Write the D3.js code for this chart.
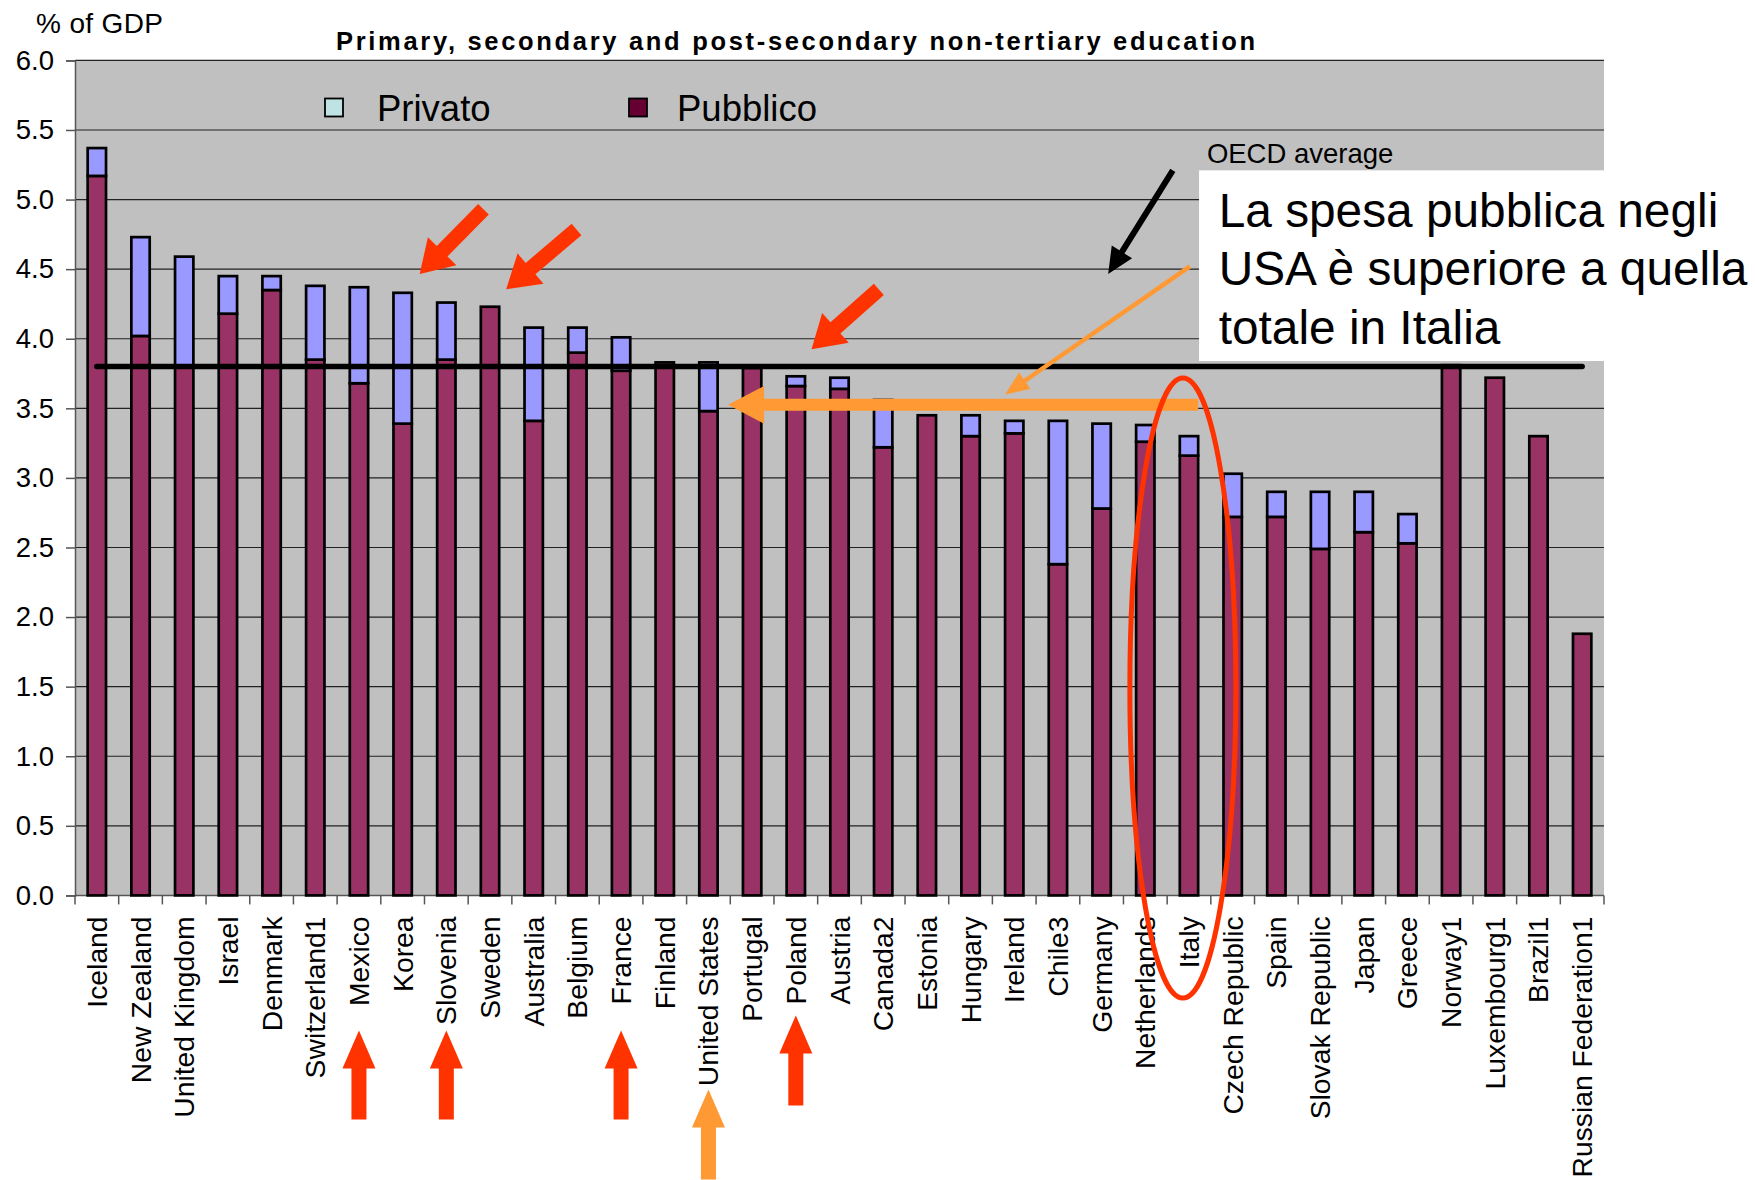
<!DOCTYPE html>
<html>
<head>
<meta charset="utf-8">
<script src="https://cdn.jsdelivr.net/npm/d3@7"></script>
<style>
  html, body { margin: 0; padding: 0; background: #ffffff; }
  svg { display: block; font-family: "Liberation Sans", Arial, sans-serif; }
</style>
</head>
<body>
<svg id="chart" width="1755" height="1180"></svg>
<script>
// ---------------- DATA ----------------
const countries = ["Iceland","New Zealand","United Kingdom","Israel","Denmark","Switzerland1","Mexico","Korea","Slovenia","Sweden","Australia","Belgium","France","Finland","United States","Portugal","Poland","Austria","Canada2","Estonia","Hungary","Ireland","Chile3","Germany","Netherlands","Italy","Czech Republic","Spain","Slovak Republic","Japan","Greece","Norway1","Luxembourg1","Brazil1","Russian Federation1"];
const pubblico = [5.17,4.02,3.80,4.18,4.35,3.85,3.68,3.39,3.85,4.23,3.41,3.90,3.77,3.83,3.48,3.79,3.66,3.64,3.22,3.45,3.30,3.32,2.38,2.78,3.26,3.16,2.72,2.72,2.49,2.61,2.53,3.81,3.72,3.30,1.88];
const privato  = [0.20,0.71,0.79,0.27,0.10,0.53,0.69,0.94,0.41,0.00,0.67,0.18,0.24,0.00,0.35,0.00,0.07,0.08,0.34,0.00,0.15,0.09,1.03,0.61,0.12,0.14,0.31,0.18,0.41,0.29,0.21,0.00,0.00,0.00,0.00];
const yTicks = [0,0.5,1,1.5,2,2.5,3,3.5,4,4.5,5,5.5,6];
const oecdAverage = 3.80;
const seriesNames = ["Privato","Pubblico"];
const titleText = "Primary, secondary and post-secondary non-tertiary education";
const yAxisTitle = "% of GDP";
const oecdLabel = "OECD average";
const noteLines = ["La spesa pubblica negli","USA è superiore a quella","totale in Italia"];
const redUpArrowCountries = ["Mexico","Slovenia","France"];
const redUpArrowCountries2 = ["Poland"];
const orangeUpArrowCountries = ["United States"];

// ---------------- LAYOUT ----------------
const svg = d3.select("#chart");
const M = {left: 75, right: 1604, top: 60.4, bottom: 895.4};
const colPub = "#993366", colPriv = "#9999ff", colPlot = "#c0c0c0";
const red = "#ff3300", orange = "#ff9933";

const x = d3.scaleBand().domain(countries).range([M.left, M.right]).padding(0);
const y = d3.scaleLinear().domain([0, 6]).range([M.bottom, M.top]);
const step = x.step();
const xAt = p => M.left + p * step;   // position in category units
const barW = step * 0.42;

// plot background
svg.append("rect").attr("x", M.left).attr("y", M.top)
  .attr("width", M.right - M.left).attr("height", M.bottom - M.top).attr("fill", colPlot);

// gridlines
svg.append("g").selectAll("line").data(yTicks.filter(d => d > 0)).join("line")
  .attr("x1", M.left).attr("x2", M.right)
  .attr("y1", d => y(d)).attr("y2", d => y(d))
  .attr("stroke", "#222").attr("stroke-width", 1.2);

// y axis
const yAxis = d3.axisLeft(y).tickValues(yTicks).tickFormat(d3.format(".1f")).tickSize(9).tickPadding(12);
const gy = svg.append("g").attr("transform", `translate(${M.left},0)`).call(yAxis);
gy.select(".domain").attr("stroke", "#555").attr("stroke-width", 1.5);
gy.selectAll(".tick line").attr("stroke", "#555").attr("stroke-width", 1.5);
gy.selectAll(".tick text").attr("font-size", 27.5).attr("fill", "#000")
  .attr("font-family", "'Liberation Sans', Arial, sans-serif");

// x axis (ticks between categories)
const gx = svg.append("g").attr("transform", `translate(0,${M.bottom})`);
gx.append("line").attr("x1", M.left).attr("x2", M.right).attr("y1", 0).attr("y2", 0)
  .attr("stroke", "#555").attr("stroke-width", 1.5);
gx.selectAll("line.tk").data(d3.range(countries.length + 1)).join("line").attr("class", "tk")
  .attr("x1", i => xAt(i)).attr("x2", i => xAt(i)).attr("y1", 0).attr("y2", 9)
  .attr("stroke", "#555").attr("stroke-width", 1.5);
gx.selectAll("text").data(countries).join("text")
  .attr("transform", d => `translate(${x(d) + step / 2 + 10},${21}) rotate(-90)`)
  .attr("text-anchor", "end").attr("font-size", 28.3).attr("fill", "#000").text(d => d);

// stacked bars
const rows = countries.map((c, i) => ({c, pub: pubblico[i], priv: privato[i]}));
const bars = svg.append("g");
bars.selectAll("rect.pub").data(rows).join("rect").attr("class", "pub")
  .attr("x", d => x(d.c) + (step - barW) / 2).attr("width", barW)
  .attr("y", d => y(d.pub)).attr("height", d => y(0) - y(d.pub))
  .attr("fill", colPub).attr("stroke", "#000").attr("stroke-width", 2.7);
bars.selectAll("rect.priv").data(rows.filter(d => d.priv > 0)).join("rect").attr("class", "priv")
  .attr("x", d => x(d.c) + (step - barW) / 2).attr("width", barW)
  .attr("y", d => y(d.pub + d.priv)).attr("height", d => y(d.pub) - y(d.pub + d.priv))
  .attr("fill", colPriv).attr("stroke", "#000").attr("stroke-width", 2.7);

// OECD average line
svg.append("line")
  .attr("x1", x(countries[0]) + step / 2).attr("x2", x(countries[countries.length - 1]) + step / 2)
  .attr("y1", y(oecdAverage)).attr("y2", y(oecdAverage))
  .attr("stroke", "#000").attr("stroke-width", 5.5).attr("stroke-linecap", "round");

// titles
svg.append("text").attr("x", 36).attr("y", 33).attr("font-size", 28)
  .attr("textLength", 127).attr("lengthAdjust", "spacing").text(yAxisTitle);
svg.append("text").attr("x", 336).attr("y", 50).attr("font-size", 25.5).attr("font-weight", "bold")
  .attr("textLength", 919).attr("lengthAdjust", "spacing").text(titleText);

// legend
const legend = [
  {name: seriesNames[0], fill: "#bfe3e3", sx: 325, tx: 377},
  {name: seriesNames[1], fill: "#660033", sx: 629, tx: 677}
];
legend.forEach(l => {
  svg.append("rect").attr("x", l.sx).attr("y", 98.5).attr("width", 18).attr("height", 18)
    .attr("fill", l.fill).attr("stroke", "#000").attr("stroke-width", 1.8);
  svg.append("text").attr("x", l.tx).attr("y", 121).attr("font-size", 36.5).text(l.name);
});

// ---------------- ANNOTATIONS ----------------
function arrowPath(x1, y1, x2, y2, sw, hw, hl) {
  const dx = x2 - x1, dy = y2 - y1, L = Math.hypot(dx, dy);
  const ux = dx / L, uy = dy / L, nx = -uy, ny = ux;
  const bx = x2 - ux * hl, by = y2 - uy * hl;
  const pts = [
    [x1 + nx * sw / 2, y1 + ny * sw / 2],
    [bx + nx * sw / 2, by + ny * sw / 2],
    [bx + nx * hw / 2, by + ny * hw / 2],
    [x2, y2],
    [bx - nx * hw / 2, by - ny * hw / 2],
    [bx - nx * sw / 2, by - ny * sw / 2],
    [x1 - nx * sw / 2, y1 - ny * sw / 2]
  ];
  return "M" + pts.map(p => p.join(",")).join("L") + "Z";
}
const ann = svg.append("g");

// OECD label
ann.append("text").attr("x", xAt(25.91)).attr("y", y(5.26)).attr("font-size", 27.5)
  .attr("fill", "#000").text(oecdLabel);

// white note box
ann.append("rect").attr("x", xAt(25.73)).attr("y", y(5.21))
  .attr("width", M.right - xAt(25.73)).attr("height", y(3.84) - y(5.21)).attr("fill", "#fff");
const noteY = [4.80, 4.385, 3.96];
noteLines.forEach((t, i) => {
  ann.append("text").attr("x", xAt(26.18)).attr("y", y(noteY[i])).attr("font-size", 47.8)
    .attr("fill", "#000").text(t);
});

// black arrow to OECD line
ann.append("path").attr("d", arrowPath(xAt(25.13), y(5.21), xAt(23.65), y(4.465), 6, 24, 26)).attr("fill", "#000");
// thin orange arrow
ann.append("path").attr("d", arrowPath(xAt(25.52), y(4.52), xAt(21.29), y(3.60), 4.5, 20, 24)).attr("fill", orange);
// thick orange horizontal arrow (Italy total -> US public)
ann.append("path").attr("d", arrowPath(xAt(25.71), y(3.525), xAt(14.95), y(3.525), 12, 38, 36)).attr("fill", orange);

// red diagonal arrows
[[9.35, 4.93, 7.89, 4.465], [11.48, 4.785, 9.87, 4.355], [18.40, 4.355, 16.86, 3.925]].forEach(a => {
  ann.append("path").attr("d", arrowPath(xAt(a[0]), y(a[1]), xAt(a[2]), y(a[3]), 15, 40, 32)).attr("fill", red);
});

// red ellipse around Italy
ann.append("ellipse").attr("cx", xAt(25.36)).attr("cy", y(1.49)).attr("rx", 53).attr("ry", 310)
  .attr("fill", "none").attr("stroke", red).attr("stroke-width", 5);

// up arrows under labels
const cx = c => x(c) + step / 2;
redUpArrowCountries.forEach(c => {
  ann.append("path").attr("d", arrowPath(cx(c), M.bottom + 224, cx(c), M.bottom + 135, 15, 33, 38)).attr("fill", red);
});
redUpArrowCountries2.forEach(c => {
  ann.append("path").attr("d", arrowPath(cx(c), M.bottom + 210, cx(c), M.bottom + 120, 15, 33, 38)).attr("fill", red);
});
orangeUpArrowCountries.forEach(c => {
  ann.append("path").attr("d", arrowPath(cx(c), M.bottom + 284, cx(c), M.bottom + 194, 15, 33, 38)).attr("fill", orange);
});
</script>
</body>
</html>
